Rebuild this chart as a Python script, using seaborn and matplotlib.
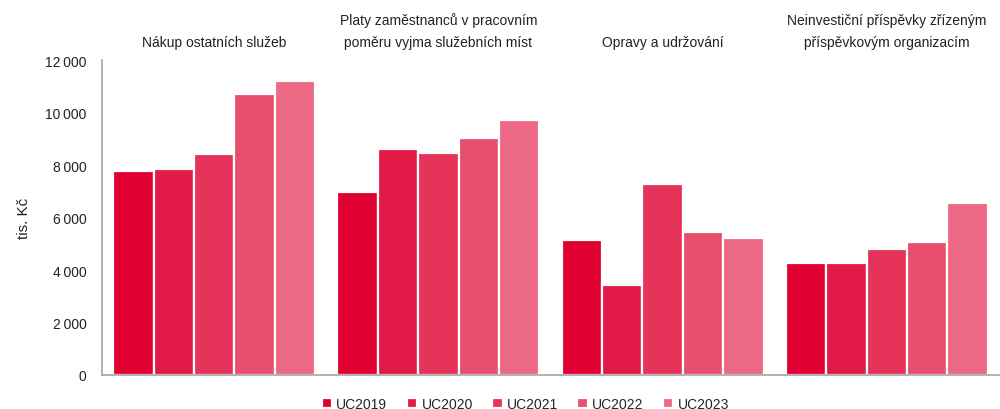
import matplotlib
matplotlib.use("Agg")
import matplotlib.pyplot as plt
import matplotlib.ticker as mticker
import seaborn as sns
import pandas as pd

# values (tis. Kč)
categories = [
    "Nákup ostatních služeb",
    "Platy zaměstnanců v pracovním\npoměru vyjma služebních míst",
    "Opravy a udržování",
    "Neinvestiční příspěvky zřízeným\npříspěvkovým organizacím",
]
years = ["UC2019", "UC2020", "UC2021", "UC2022", "UC2023"]
uc2019 = [7760, 6980, 5140, 4250]
uc2020 = [7850, 8610, 3420, 4270]
uc2021 = [8430, 8460, 7260, 4800]
uc2022 = [10720, 9020, 5440, 5080]
uc2023 = [11200, 9700, 5220, 6540]
colors = ["#E00032", "#E21A47", "#E5335A", "#E84F6E", "#EC6884"]

series = [uc2019, uc2020, uc2021, uc2022, uc2023]
rows = []
for year, vals in zip(years, series):
    for cat, v in zip(categories, vals):
        rows.append({"cat": cat, "year": year, "value": v})
df = pd.DataFrame(rows)

sns.set_style("white")
plt.rcParams["font.family"] = ["Liberation Sans", "DejaVu Sans"]

fig = plt.figure(figsize=(10, 4.1), dpi=100)
ax = fig.add_axes([0.102, 0.083, 0.897, 0.768])

sns.barplot(data=df, x="cat", y="value", hue="year", palette=colors, saturation=1,
            width=0.9, edgecolor="white", linewidth=1.6, ax=ax)

ax.set_ylim(0, 12000)
ax.set_xlim(-0.5, 3.5)
ax.yaxis.set_major_locator(mticker.MultipleLocator(2000))
ax.yaxis.set_major_formatter(mticker.FuncFormatter(lambda v, p: f"{int(v):,}".replace(",", "\u2009")))
ax.tick_params(axis="y", length=0, labelsize=10, pad=11, colors="#222222")
ax.tick_params(axis="x", length=0)
ax.set_xticklabels([])
ax.set_xlabel("")
ax.set_ylabel("tis. Kč", fontsize=11, labelpad=10, color="#222222")
for s in ["top", "right"]:
    ax.spines[s].set_visible(False)
for s in ["left", "bottom"]:
    ax.spines[s].set_color("#A6A6A6")
    ax.spines[s].set_linewidth(1.2)

# category headings above the groups
for i, cat in enumerate(categories):
    ax.text(i, 1.035, cat, transform=ax.get_xaxis_transform(), ha="center", va="bottom",
            fontsize=10, color="#222222", linespacing=1.7)

ax.legend(loc="upper center", bbox_to_anchor=(0.472, -0.03), ncol=5, frameon=False,
          handlelength=0.75, handleheight=0.75, handletextpad=0.3, columnspacing=1.4,
          fontsize=10)

fig.savefig("out.png", dpi=100)
